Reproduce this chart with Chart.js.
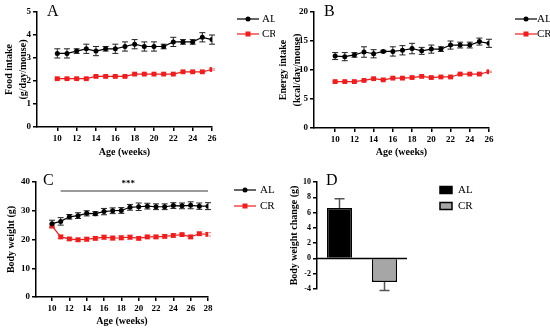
<!DOCTYPE html>
<html>
<head>
<meta charset="utf-8">
<script src="https://cdn.jsdelivr.net/npm/chart.js@4.4.0/dist/chart.umd.min.js"></script>
<style>
  html, body { margin: 0; padding: 0; background: #fff; }
  #wrap { position: relative; width: 550px; height: 331px; overflow: hidden; }
  .panel { position: absolute; width: 275px; height: 165px; }
</style>
</head>
<body>
<div id="wrap">
  <div class="panel" style="left:0;top:0"><canvas id="chartA" width="275" height="165"></canvas></div>
  <div class="panel" style="left:275px;top:0"><canvas id="chartB" width="275" height="165"></canvas></div>
  <div class="panel" style="left:0;top:165px;height:166px"><canvas id="chartC" width="275" height="166"></canvas></div>
  <div class="panel" style="left:275px;top:165px;height:166px"><canvas id="chartD" width="275" height="166"></canvas></div>
</div>
<script>
// ── Data ─────────────────────────────────────────────────────
const weeksAB    = [10, 11, 12, 13, 14, 15, 16, 17, 18, 19, 20, 21, 22, 23, 24, 25, 26];
const weekTicksAB = [10, 12, 14, 16, 18, 20, 22, 24, 26];
const weeksC     = [10, 11, 12, 13, 14, 15, 16, 17, 18, 19, 20, 21, 22, 23, 24, 25, 26, 27, 28];
const weekTicksC = [10, 12, 14, 16, 18, 20, 22, 24, 26, 28];

const foodAL     = [3.2, 3.2, 3.3, 3.4, 3.3, 3.4, 3.4, 3.5, 3.6, 3.5, 3.5, 3.5, 3.7, 3.7, 3.7, 3.9, 3.8];
const foodALerr  = [0.2, 0.2, 0.1, 0.2, 0.2, 0.1, 0.2, 0.2, 0.2, 0.2, 0.2, 0.1, 0.2, 0.1, 0.1, 0.2, 0.2];
const foodCR     = [2.1, 2.1, 2.1, 2.1, 2.2, 2.2, 2.2, 2.2, 2.3, 2.3, 2.3, 2.3, 2.3, 2.4, 2.4, 2.4, 2.5];
const foodCRerr  = [0.03, 0.03, 0.03, 0.03, 0.03, 0.03, 0.03, 0.03, 0.03, 0.03, 0.03, 0.03, 0.03, 0.03, 0.03, 0.03, 0.03];

const energyAL    = [12.4, 12.3, 12.6, 13.1, 12.8, 13.2, 13.2, 13.4, 13.7, 13.3, 13.6, 13.6, 14.3, 14.3, 14.3, 14.9, 14.6];
const energyALerr = [0.6, 0.7, 0.4, 0.9, 0.7, 0.2, 0.8, 0.8, 0.9, 0.6, 0.7, 0.4, 0.7, 0.5, 0.5, 0.6, 0.7];
const energyCR    = [8.0, 8.0, 8.0, 8.2, 8.5, 8.3, 8.6, 8.6, 8.7, 8.9, 8.7, 8.8, 8.8, 9.3, 9.3, 9.3, 9.7];
const energyCRerr = [0.1, 0.1, 0.1, 0.1, 0.1, 0.1, 0.1, 0.1, 0.1, 0.1, 0.1, 0.1, 0.1, 0.1, 0.1, 0.1, 0.1];

const bwAL     = [25.5, 26.3, 27.9, 28.3, 29.1, 29.0, 29.7, 30.0, 30.1, 31.2, 31.4, 31.6, 31.4, 31.4, 31.8, 31.7, 31.9, 31.6, 31.6];
const bwALerr  = [1.2, 1.3, 0.8, 1.0, 0.9, 0.7, 1.1, 1.0, 1.0, 1.0, 1.3, 1.0, 1.0, 1.0, 1.0, 1.0, 1.2, 1.1, 1.2];
const bwCR     = [24.7, 20.9, 20.2, 19.9, 20.1, 20.4, 20.8, 20.5, 20.6, 20.8, 20.4, 20.9, 20.9, 21.1, 21.4, 21.7, 20.9, 22.0, 21.8];
const bwCRerr  = [0.7, 0.6, 0.5, 0.6, 0.7, 0.6, 0.7, 0.7, 0.7, 0.7, 0.6, 0.6, 0.6, 0.6, 0.6, 0.5, 0.6, 0.6, 0.6];

const changeGroups = ['AL', 'CR'];
const changeMean   = [6.6, -3.1];
const changeErr    = [1.2, 1.1];

// ── Styles ───────────────────────────────────────────────────
const SERIF = "'Liberation Serif', 'Times New Roman', serif";
const RED = '#f21c1c';

function toXY(xs, ys) { return xs.map((x, i) => ({ x: x, y: ys[i] })); }

function axisStyle(extra) {
  return Object.assign({
    border: { display: true, color: '#000', width: 1.5 },
    grid: { display: true, drawOnChartArea: false, drawTicks: true, tickLength: 4, color: '#000', lineWidth: 1.5 },
    ticks: { color: '#000', font: { family: SERIF, weight: 'bold', size: 9 }, padding: 2 }
  }, extra);
}

// ── Error bars (drawn behind the marks) ──────────────────────
const errorBars = {
  id: 'errorBars',
  beforeDatasetsDraw(chart) {
    const ctx = chart.ctx;
    const ys = chart.scales.y;
    chart.data.datasets.forEach((ds, di) => {
      if (!ds.errors) return;
      const meta = chart.getDatasetMeta(di);
      ctx.save();
      ctx.strokeStyle = ds.errorColor || '#000';
      ctx.lineWidth = ds.errorWidth || 1;
      meta.data.forEach((el, i) => {
        const raw = ds.data[i];
        const v = typeof raw === 'object' ? raw.y : raw;
        const e = ds.errors[i];
        const outward = ds.errorOutward;
        const hi = outward ? (v >= 0 ? v + e : v) : v + e;
        const lo = outward ? (v >= 0 ? v : v - e) : v - e;
        const yHi = ys.getPixelForValue(hi), yLo = ys.getPixelForValue(lo);
        const x = el.x, cap = ds.capHalf || 3;
        ctx.beginPath();
        ctx.moveTo(x, yHi); ctx.lineTo(x, yLo);
        if (!outward || v >= 0) { ctx.moveTo(x - cap, yHi); ctx.lineTo(x + cap, yHi); }
        if (!outward || v < 0)  { ctx.moveTo(x - cap, yLo); ctx.lineTo(x + cap, yLo); }
        ctx.stroke();
      });
      ctx.restore();
    });
  }
};

// ── Panel letter, legend, significance bar ───────────────────
const decor = {
  id: 'decor',
  afterDraw(chart, args, opts) {
    const ctx = chart.ctx;
    ctx.save();
    if (opts.letter) {
      ctx.fillStyle = '#000';
      ctx.font = '16px ' + SERIF;
      ctx.textAlign = 'left'; ctx.textBaseline = 'middle';
      ctx.fillText(opts.letter, opts.letterPos[0], opts.letterPos[1]);
    }
    if (opts.sig) {
      const xs = chart.scales.x, ys = chart.scales.y;
      const x1 = xs.getPixelForValue(opts.sig.from), x2 = xs.getPixelForValue(opts.sig.to);
      const y = ys.getPixelForValue(opts.sig.at);
      ctx.strokeStyle = '#9a9a9a'; ctx.lineWidth = 2;
      ctx.beginPath(); ctx.moveTo(x1, y); ctx.lineTo(x2, y); ctx.stroke();
      ctx.fillStyle = '#000';
      ctx.font = 'bold 9px ' + SERIF;
      ctx.textAlign = 'center'; ctx.textBaseline = 'bottom';
      ctx.fillText(opts.sig.label, (x1 + x2) / 2 - 6, y - 3);
    }
    if (opts.zeroLine) {
      const ys = chart.scales.y, a = chart.chartArea;
      const y = ys.getPixelForValue(0);
      ctx.strokeStyle = '#000'; ctx.lineWidth = 1.5;
      ctx.beginPath(); ctx.moveTo(a.left, y); ctx.lineTo(a.right, y); ctx.stroke();
    }
    (opts.legend || []).forEach(item => {
      const [x, y] = item.pos;
      ctx.lineWidth = 1.2;
      if (item.kind === 'line') {
        ctx.strokeStyle = item.color;
        ctx.beginPath(); ctx.moveTo(x, y); ctx.lineTo(x + 22, y); ctx.stroke();
        ctx.fillStyle = item.color;
        ctx.beginPath();
        if (item.marker === 'circle') ctx.arc(x + 11, y, 2.5, 0, Math.PI * 2);
        else ctx.rect(x + 8.5, y - 2.5, 5, 5);
        ctx.fill();
        ctx.fillStyle = '#000';
      } else {
        ctx.fillStyle = item.color;
        ctx.fillRect(x, y - 3.5, 12, 7);
        ctx.strokeStyle = '#000'; ctx.lineWidth = 1.5;
        ctx.strokeRect(x, y - 3.5, 12, 7);
        ctx.fillStyle = '#000';
      }
      ctx.font = '11px ' + SERIF;
      ctx.textAlign = 'left'; ctx.textBaseline = 'middle';
      ctx.fillText(item.label, item.textX, y);
    });
    ctx.restore();
  }
};

// ── Line panel builder ───────────────────────────────────────
function linePanel(id, cfg) {
  return new Chart(document.getElementById(id), {
    type: 'line',
    data: {
      datasets: [
        {
          label: 'AL', data: toXY(cfg.weeks, cfg.al), errors: cfg.alErr,
          borderColor: '#000', backgroundColor: '#000', borderWidth: 1.2,
          pointStyle: 'circle', pointRadius: 2.5, pointBorderWidth: 0,
          errorColor: '#222', errorWidth: 1, capHalf: 3
        },
        {
          label: 'CR', data: toXY(cfg.weeks, cfg.cr), errors: cfg.crErr,
          borderColor: RED, backgroundColor: RED, borderWidth: 1.2,
          pointStyle: 'rect', pointRadius: 3.4, pointBorderWidth: 0,
          errorColor: '#ff8080', errorWidth: 1, capHalf: 3
        }
      ]
    },
    options: {
      responsive: false,
      animation: false,
      events: [],
      layout: { padding: { top: cfg.top, right: cfg.right, left: 0, bottom: 0 } },
      plugins: {
        legend: { display: false },
        tooltip: { enabled: false },
        decor: cfg.decor
      },
      scales: {
        x: axisStyle({
          type: 'linear', min: cfg.xMin, max: cfg.xMax,
          afterBuildTicks: s => { s.ticks = cfg.ticks.map(v => ({ value: v })); },
          afterFit: s => { s.height = cfg.bottom; },
          title: { display: true, text: 'Age (weeks)', color: '#000',
                   font: { family: SERIF, weight: 'bold', size: 10 }, padding: { top: 0, bottom: cfg.xTitlePad } }
        }),
        y: axisStyle({
          min: cfg.yMin, max: cfg.yMax,
          ticks: { stepSize: cfg.yStep, color: '#000', font: { family: SERIF, weight: 'bold', size: 9 }, padding: 2 },
          afterFit: s => { s.width = cfg.left; },
          title: { display: true, text: cfg.yTitle, color: '#000',
                   font: { family: SERIF, weight: 'bold', size: 10, lineHeight: 1.35 }, padding: { top: cfg.yTitlePad, bottom: 0 } }
        })
      }
    },
    plugins: [errorBars, decor]
  });
}

// ── A: Food intake ───────────────────────────────────────────
linePanel('chartA', {
  weeks: weeksAB, ticks: weekTicksAB, al: foodAL, alErr: foodALerr, cr: foodCR, crErr: foodCRerr,
  xMin: 7.9, xMax: 26, yMin: 0, yMax: 5, yStep: 1,
  yTitle: ['Food intake', '(g/day/mouse)'], yTitlePad: 3,
  left: 37, top: 12, right: 63, bottom: 38, xTitlePad: 7,
  decor: {
    letter: 'A', letterPos: [47, 12],
    legend: [
      { label: 'AL', kind: 'line', marker: 'circle', color: '#000', pos: [237, 19], textX: 262 },
      { label: 'CR', kind: 'line', marker: 'rect', color: RED, pos: [237, 34], textX: 262 }
    ]
  }
});

// ── B: Energy intake ─────────────────────────────────────────
linePanel('chartB', {
  weeks: weeksAB, ticks: weekTicksAB, al: energyAL, alErr: energyALerr, cr: energyCR, crErr: energyCRerr,
  xMin: 7.8, xMax: 26, yMin: 0, yMax: 20, yStep: 5,
  yTitle: ['Energy intake', '(kcal/day/mouse)'], yTitlePad: 2,
  left: 39, top: 12, right: 61, bottom: 37, xTitlePad: 7,
  decor: {
    letter: 'B', letterPos: [49, 12],
    legend: [
      { label: 'AL', kind: 'line', marker: 'circle', color: '#000', pos: [240, 19], textX: 262 },
      { label: 'CR', kind: 'line', marker: 'rect', color: RED, pos: [240, 34], textX: 262 }
    ]
  }
});

// ── C: Body weight ───────────────────────────────────────────
linePanel('chartC', {
  weeks: weeksC, ticks: weekTicksC, al: bwAL, alErr: bwALerr, cr: bwCR, crErr: bwCRerr,
  xMin: 8.15, xMax: 28, yMin: 0, yMax: 40, yStep: 10,
  yTitle: 'Body weight (g)', yTitlePad: 5,
  left: 36, top: 17, right: 67, bottom: 34, xTitlePad: 4,
  decor: {
    letter: 'C', letterPos: [43, 16],
    sig: { from: 11, to: 28, at: 36.9, label: '***' },
    legend: [
      { label: 'AL', kind: 'line', marker: 'circle', color: '#000', pos: [234, 25], textX: 260 },
      { label: 'CR', kind: 'line', marker: 'rect', color: RED, pos: [234, 41], textX: 260 }
    ]
  }
});

// ── D: Body weight change ────────────────────────────────────
new Chart(document.getElementById('chartD'), {
  type: 'bar',
  data: {
    labels: changeGroups,
    datasets: [{
      data: changeMean, errors: changeErr, errorOutward: true,
      backgroundColor: ['#000', '#a6a6a6'], borderColor: '#000', borderWidth: 1.5,
      barPercentage: 0.56, categoryPercentage: 1,
      errorColor: '#555', errorWidth: 1.5, capHalf: 5
    }]
  },
  options: {
    responsive: false,
    animation: false,
    events: [],
    layout: { padding: { top: 17, right: 143, left: 0, bottom: 42 } },
    plugins: {
      legend: { display: false },
      tooltip: { enabled: false },
      decor: {
        letter: 'D', letterPos: [51, 16],
        zeroLine: true,
        legend: [
          { label: 'AL', kind: 'box', color: '#000', pos: [165, 25], textX: 183 },
          { label: 'CR', kind: 'box', color: '#a6a6a6', pos: [165, 41], textX: 183 }
        ]
      }
    },
    scales: {
      x: { display: false },
      y: axisStyle({
        min: -4, max: 10,
        ticks: { stepSize: 2, color: '#000', font: { family: SERIF, weight: 'bold', size: 8 }, padding: 2 },
        afterFit: s => { s.width = 42; },
        title: { display: true, text: 'Body weight change (g)', color: '#000',
                 font: { family: SERIF, weight: 'bold', size: 10 }, padding: { top: 13, bottom: 0 } }
      })
    }
  },
  plugins: [errorBars, decor]
});
</script>
</body>
</html>
